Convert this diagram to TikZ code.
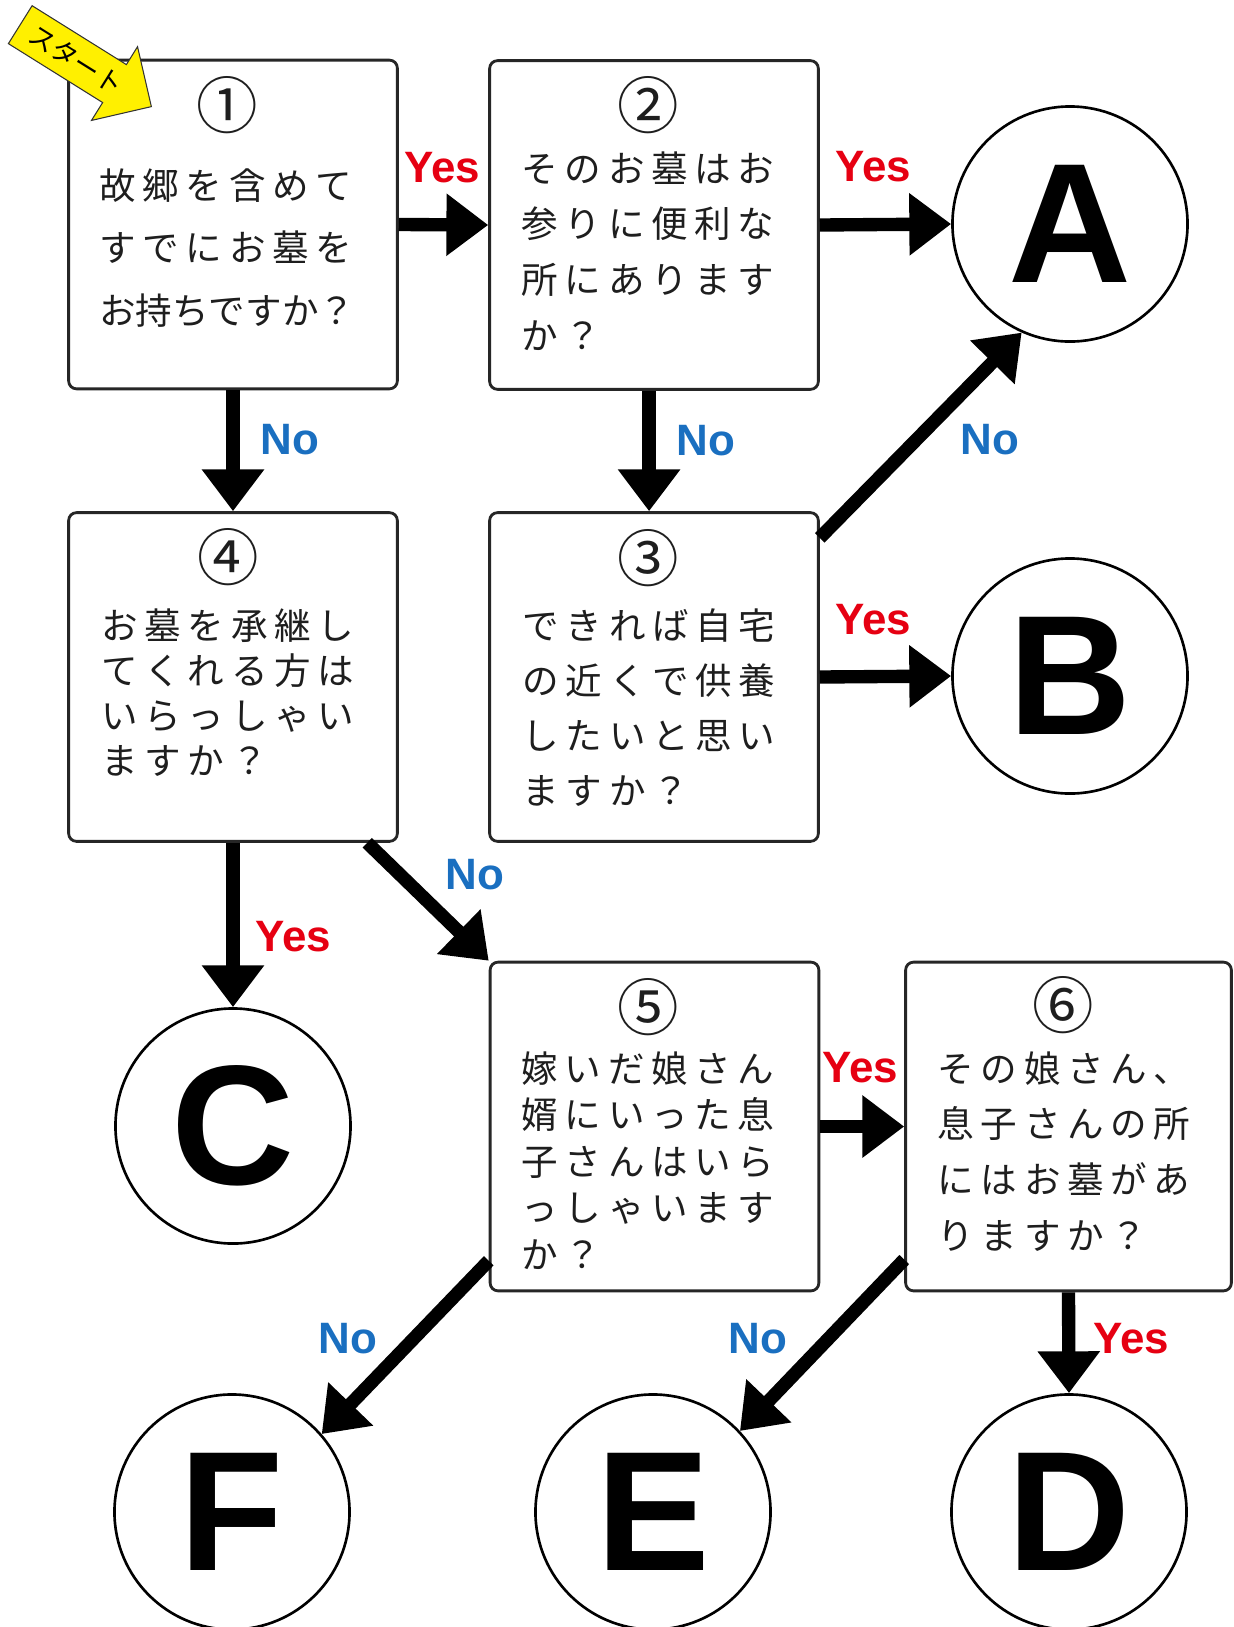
\documentclass[tikz,border=0pt]{standalone}
\usepackage{fontspec}
\setmainfont{Liberation Sans}
\newfontfamily\jp{Noto Sans CJK JP}
\usetikzlibrary{arrows.meta,shapes.arrows}
\definecolor{yesred}{HTML}{E60012}
\definecolor{noblue}{HTML}{1A6FC0}
\definecolor{txt}{HTML}{1E1E1E}
\definecolor{startyellow}{HTML}{FFF000}
\makeatletter
\newlength\jlw
\setlength\jlw{24.66pt}
\newcommand\jl[1]{\jl@a#1\@nil}
\def\jl@a#1{\ifx#1\@nil\else\makebox[\jlw][l]{#1}\expandafter\jl@a\fi}
\makeatother
\tikzset{
  qbox/.style={draw=black!85, line width=1.6pt, rounded corners=4.5pt, fill=white,
    minimum width=187.1pt, minimum height=187.1pt, inner sep=0pt},
  endc/.style={circle, draw=black, line width=1.5pt, minimum size=133.8pt, inner sep=0pt,
    font=\fontsize{97pt}{97pt}\selectfont\bfseries},
  conn/.style={line width=7.6pt, -{Triangle[length=23.8pt,width=34pt]}},
  jtext/.style={inner sep=0pt, align=left, anchor=north west, text=txt},
  numc/.style={inner sep=0pt, text=txt, font=\jp\fontsize{35pt}{35pt}\selectfont},
  yes/.style={text=yesred, inner sep=0pt, font=\fontsize{25pt}{25pt}\selectfont\bfseries},
  no/.style={text=noblue, inner sep=0pt, font=\fontsize{25pt}{25pt}\selectfont\bfseries},
  startarrow/.style={shape=single arrow, draw=black!80, line width=0.6pt, fill=startyellow,
    single arrow head extend=12pt, minimum height=88pt,
    inner xsep=2pt, inner ysep=6pt, anchor=tip, rotate=-32,
    font=\jp\fontsize{15pt}{15pt}\selectfont}
}
\begin{document}
\begin{tikzpicture}[x=0.02cm,y=-0.02cm]
\useasboundingbox[fill=white] (0,0) rectangle (1234,1627);

% question boxes
\node[qbox] (b1) at (233,224.5) {};
\node[qbox] (b2) at (654,225) {};
\node[qbox] (b3) at (654,677) {};
\node[qbox] (b4) at (233,677) {};
\node[qbox] (b5) at (654.5,1126.5) {};
\node[qbox, minimum width=185.4pt] (b6) at (1068.5,1126.5) {};

% end circles
\node[endc] (A) at (1070,224) {A};
\node[endc] (B) at (1070,676) {B};
\node[endc] (C) at (233,1126) {C};
\node[endc] (D) at (1069,1512) {D};
\node[endc] (E) at (653,1512) {E};
\node[endc] (F) at (232,1512) {F};

% numbers
\node[numc] (n1) at (227,105) {①};
\node[numc] (n2) at (648,105) {②};
\node[numc] (n3) at (648,558) {③};
\node[numc] (n4) at (228,557) {④};
\node[numc] (n5) at (648,1007) {⑤};
\node[numc] (n6) at (1063,1005) {⑥};

% texts
\node[jtext, font={\jp\fontsize{20.8pt}{35.7pt}\selectfont}] (t1) at (99,168)
  {\jl{故郷を含めて}\\\jl{すでにお墓を}\\お持ちですか？};
\node[jtext, font={\jp\fontsize{20.8pt}{31.75pt}\selectfont}] (t2) at (521,151)
  {\jl{そのお墓はお}\\\jl{参りに便利な}\\\jl{所にあります}\\\jl{か？}};
\node[jtext, font={\jp\fontsize{20.8pt}{31.4pt}\selectfont}] (t3) at (522,608)
  {\jl{できれば自宅}\\\jl{の近くで供養}\\\jl{したいと思い}\\\jl{ますか？}};
\node[jtext, font={\jp\fontsize{20.8pt}{25.7pt}\selectfont}] (t4) at (101,608)
  {\jl{お墓を承継し}\\\jl{てくれる方は}\\\jl{いらっしゃい}\\\jl{ますか？}};
\node[jtext, font={\jp\fontsize{20.8pt}{26.5pt}\selectfont}] (t5) at (521,1051)
  {\jl{嫁いだ娘さん}\\\jl{婿にいった息}\\\jl{子さんはいら}\\\jl{っしゃいます}\\\jl{か？}};
\node[jtext, font={\jp\fontsize{20.8pt}{31.75pt}\selectfont}] (t6) at (937,1051)
  {\jl{その娘さん、}\\\jl{息子さんの所}\\\jl{にはお墓があ}\\\jl{りますか？}};

% connectors
\draw[conn] (b1.east) -- (b2.west);
\draw[conn] (b2.east) -- (A.west);
\draw[conn] (b1.south) -- (b4.north);
\draw[conn] ([xshift=-2.8pt]b2.south) -- ([xshift=-2.8pt]b3.north);
\draw[conn] (b3.40) -- (A.246);
\draw[conn] (b3.east) -- (B.west);
\draw[conn] (b4.south) -- (C.north);
\draw[conn] (b4.-51) -- (b5.north west);
\draw[conn] (b5.east) -- (b6.west);
\draw[conn] (b5.219) -- (F.41);
\draw[conn] (b6.219) -- (E.43);
\draw[conn] (b6.south) -- (D.north);

% labels
\node[yes] (l1) at (442,168) {Yes};
\node[yes] (l2) at (873,167) {Yes};
\node[no]  (l3) at (290,440) {No};
\node[no]  (l4) at (706,441) {No};
\node[no]  (l5) at (990,440) {No};
\node[yes] (l6) at (873,620) {Yes};
\node[yes] (l7) at (293,937) {Yes};
\node[no]  (l8) at (475,875) {No};
\node[yes] (l9) at (860,1068) {Yes};
\node[no]  (l10) at (348,1339) {No};
\node[no]  (l11) at (758,1339) {No};
\node[yes] (l12) at (1131,1339) {Yes};

% start arrow
\node[startarrow] (st) at (152,107) {スタート};
\end{tikzpicture}
\end{document}
